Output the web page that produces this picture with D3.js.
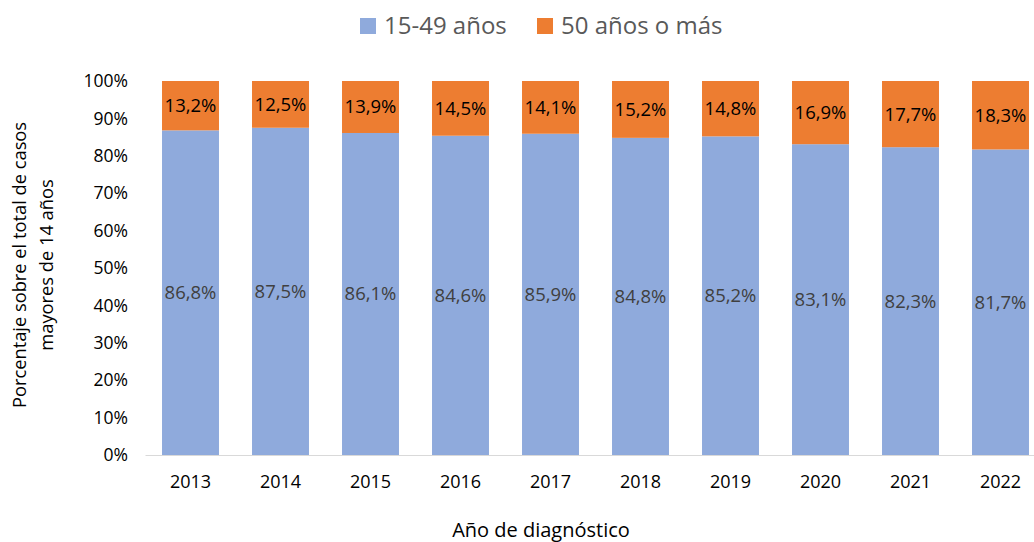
<!DOCTYPE html>
<html>
<head>
<meta charset="utf-8">
<script src="https://cdn.jsdelivr.net/npm/d3@7"></script>
<style>
  body { margin: 0; background: #fff; }
  svg { display: block; font-family: "Open Sans", "Noto Sans", sans-serif; }
</style>
</head>
<body>
<div id="chart"></div>
<script>
const width = 1034;
const height = 542;

var years = ["2013", "2014", "2015", "2016", "2017", "2018", "2019", "2020", "2021", "2022"]
var young = [86.8, 87.5, 86.1, 84.6, 85.9, 84.8, 85.2, 83.1, 82.3, 81.7]
var old = [13.2, 12.5, 13.9, 14.5, 14.1, 15.2, 14.8, 16.9, 17.7, 18.3]
var yTicks = [0, 10, 20, 30, 40, 50, 60, 70, 80, 90, 100]
var seriesNames = ["15-49 años", "50 años o más"]
var colors = ["#8faadc", "#ed7d31"]

var margin = { left: 145.5, right: -11.5, top: 81, bottom: 87 }

var svg = d3.select("#chart").append("svg")
    .attr("width", width)
    .attr("height", height)

var x = d3.scaleBand()
    .domain(years)
    .range([margin.left, width - margin.right])
    .paddingInner(0.367)
    .paddingOuter(0.1835)

var y = d3.scaleLinear()
    .domain([0, 100])
    .range([height - margin.bottom, margin.top])

// 100% stacked: normalise each year like the spreadsheet does
var rows = years.map((yr, i) => {
    var tot = young[i] + old[i]
    return { year: yr, a: young[i] / tot * 100, b: old[i] / tot * 100, la: young[i], lb: old[i] }
})

// y tick labels
svg.append("g").selectAll("text")
    .data(yTicks)
    .enter()
    .append("text")
    .attr("x", 128)
    .attr("y", d => y(d))
    .attr("dy", "0.35em")
    .attr("text-anchor", "end")
    .style("font-size", "17.5px")
    .attr("fill", "#000")
    .text(d => d + "%")

// bars
var g = svg.append("g")
g.selectAll(".barA")
    .data(rows)
    .enter()
    .append("rect")
    .attr("x", d => x(d.year))
    .attr("width", x.bandwidth())
    .attr("y", d => y(d.a))
    .attr("height", d => y(0) - y(d.a))
    .attr("fill", colors[0])

g.selectAll(".barB")
    .data(rows)
    .enter()
    .append("rect")
    .attr("x", d => x(d.year))
    .attr("width", x.bandwidth())
    .attr("y", d => y(100))
    .attr("height", d => y(d.a) - y(100))
    .attr("fill", colors[1])

// data labels
g.selectAll(".labA")
    .data(rows)
    .enter()
    .append("text")
    .attr("x", d => x(d.year) + x.bandwidth() / 2)
    .attr("y", d => y(d.a / 2))
    .attr("dy", "0.35em")
    .attr("text-anchor", "middle")
    .style("font-size", "18.5px")
    .attr("fill", "#404040")
    .text(d => d.la.toFixed(1).replace(".", ",") + "%")

g.selectAll(".labB")
    .data(rows)
    .enter()
    .append("text")
    .attr("x", d => x(d.year) + x.bandwidth() / 2)
    .attr("y", d => y(d.a + d.b / 2))
    .attr("dy", "0.35em")
    .attr("text-anchor", "middle")
    .style("font-size", "18.5px")
    .attr("fill", "#000")
    .text(d => d.lb.toFixed(1).replace(".", ",") + "%")

// x axis line
svg.append("line")
    .attr("x1", margin.left)
    .attr("x2", width)
    .attr("y1", y(0) + 0.5)
    .attr("y2", y(0) + 0.5)
    .attr("stroke", "#d9d9d9")
    .attr("stroke-width", 1)

// x tick labels
svg.append("g").selectAll("text")
    .data(years)
    .enter()
    .append("text")
    .attr("x", d => x(d) + x.bandwidth() / 2)
    .attr("y", 488)
    .attr("text-anchor", "middle")
    .style("font-size", "18px")
    .attr("fill", "#000")
    .text(d => d)

// axis titles
svg.append("text")
    .attr("x", 541)
    .attr("y", 537)
    .attr("text-anchor", "middle")
    .style("font-size", "20px")
    .attr("fill", "#000")
    .text("Año de diagnóstico")

var yt = svg.append("text")
    .attr("transform", "translate(26," + 265 + ") rotate(-90)")
    .attr("text-anchor", "middle")
    .style("font-size", "18.3px")
    .attr("fill", "#000")
yt.append("tspan").attr("x", 0).attr("dy", 0).text("Porcentaje sobre el total de casos")
yt.append("tspan").attr("x", 0).attr("dy", 27).text("mayores de 14 años")

// legend
var legendX = [360, 537]
seriesNames.forEach((name, i) => {
    svg.append("rect")
        .attr("x", legendX[i])
        .attr("y", 18)
        .attr("width", 16)
        .attr("height", 16)
        .attr("fill", colors[i])
    svg.append("text")
        .attr("x", legendX[i] + 24)
        .attr("y", 26)
        .attr("dy", "0.35em")
        .style("font-size", "24px")
        .attr("fill", "#595959")
        .text(name)
})
</script>
</body>
</html>
